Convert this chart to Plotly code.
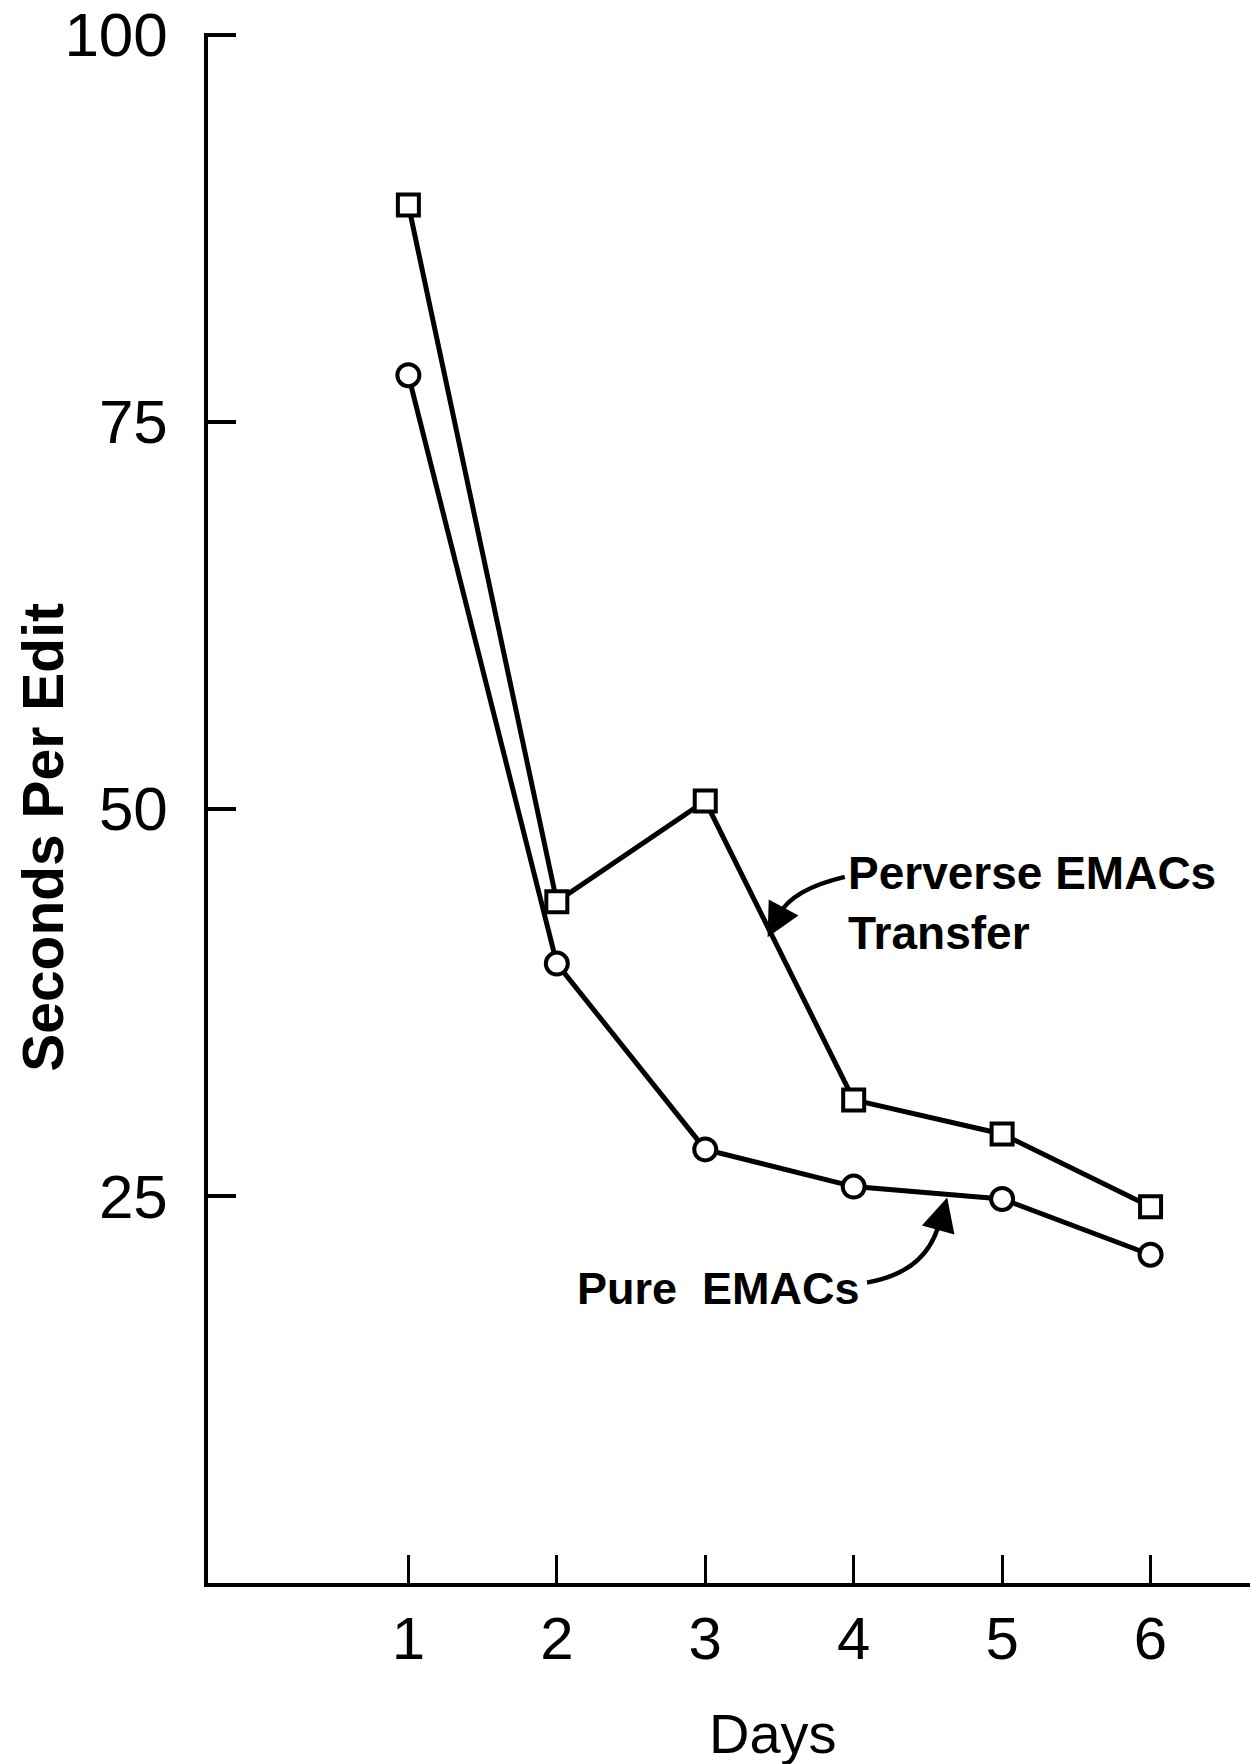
import plotly.graph_objects as go

days = [1, 2, 3, 4, 5, 6]
perverse_transfer = [89.0, 44.0, 50.5, 31.2, 29.0, 24.3]
pure_emacs = [78.0, 40.0, 28.0, 25.6, 24.8, 21.2]
y_ticks = [25, 50, 75, 100]
x_ticks = [1, 2, 3, 4, 5, 6]
x_tick_text = ["1", "2", "3", "4", "5", "6"]

FONT = "Liberation Sans, Arial, sans-serif"

fig = go.Figure()
fig.add_trace(go.Scatter(
    x=days, y=perverse_transfer, mode="lines+markers", name="Perverse EMACs Transfer",
    line=dict(color="black", width=5),
    marker=dict(symbol="square", size=21, color="white", line=dict(color="black", width=4)),
))
fig.add_trace(go.Scatter(
    x=days, y=pure_emacs, mode="lines+markers", name="Pure EMACs",
    line=dict(color="black", width=5),
    marker=dict(symbol="circle", size=22, color="white", line=dict(color="black", width=4)),
))

# curved leader lines
fig.add_shape(type="path", xref="x", yref="y",
              path="M 3.94,45.6 Q 3.59,44.8 3.50,43.2",
              line=dict(color="black", width=4.5))
fig.add_shape(type="path", xref="x", yref="y",
              path="M 4.09,19.4 Q 4.50,20.1 4.58,23.4",
              line=dict(color="black", width=4.5))

annotations = [
    dict(x=3.95, y=43.9, xref="x", yref="y", text="<b>Perverse EMACs<br>Transfer</b>",
         showarrow=False, xanchor="left", yanchor="middle", align="left",
         font=dict(family=FONT, size=46, color="black")),
    dict(x=3.09, y=19.05, xref="x", yref="y", text="<b>Pure  EMACs</b>",
         showarrow=False, xanchor="center", yanchor="middle",
         font=dict(family=FONT, size=45, color="black")),
    # arrowheads
    dict(x=3.42, y=41.7, ax=3.51, ay=43.3, xref="x", yref="y", axref="x", ayref="y",
         text="", showarrow=True, arrowhead=2, arrowsize=1.5, arrowwidth=4.5, arrowcolor="black"),
    dict(x=4.63, y=24.9, ax=4.575, ay=23.0, xref="x", yref="y", axref="x", ayref="y",
         text="", showarrow=True, arrowhead=2, arrowsize=1.5, arrowwidth=4.5, arrowcolor="black"),
    # axis titles
    dict(x=0.542, y=-0.097, xref="paper", yref="paper", text="Days", showarrow=False,
         xanchor="center", yanchor="middle", font=dict(family=FONT, size=56, color="black")),
    dict(x=-0.158, y=0.481, xref="paper", yref="paper", text="<b>Seconds Per Edit</b>", showarrow=False,
         textangle=-90, xanchor="center", yanchor="middle",
         font=dict(family=FONT, size=57, color="black")),
]

fig.update_layout(
    width=1250, height=1764,
    margin=dict(l=208, r=0, t=33, b=181),
    paper_bgcolor="white", plot_bgcolor="white",
    showlegend=False,
    annotations=annotations,
    font=dict(family=FONT, color="black"),
)
fig.update_xaxes(
    range=[-0.35, 6.67], showgrid=False, zeroline=False,
    showline=True, linecolor="black", linewidth=3.5,
    ticks="inside", ticklen=28, tickwidth=3, tickcolor="black",
    tickvals=x_ticks, ticktext=x_tick_text, ticklabelstandoff=0,
    ticklabeloverflow="allow",
    tickfont=dict(family=FONT, size=60, color="black"),
)
fig.update_yaxes(
    range=[0, 100.1], showgrid=False, zeroline=False,
    showline=True, linecolor="black", linewidth=3.5,
    ticks="inside", ticklen=28, tickwidth=3.5, tickcolor="black",
    tickvals=y_ticks, ticklabelstandoff=24,
    ticklabeloverflow="allow",
    tickfont=dict(family=FONT, size=62, color="black"),
)

fig.write_html("out.html", config={"displayModeBar": False},
               post_script="document.body.style.margin='0';document.body.style.padding='0';")
